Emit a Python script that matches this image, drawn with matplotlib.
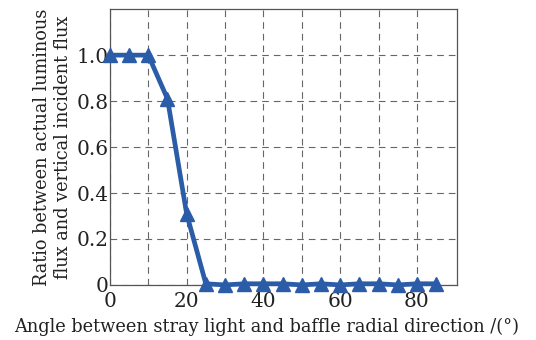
import matplotlib
matplotlib.use("Agg")
import matplotlib.pyplot as plt

angles = [0, 5, 10, 15, 20, 25, 30, 35, 40, 45, 50, 55, 60, 65, 70, 75, 80, 85]
ratio = [1.0, 1.0, 1.0, 0.81, 0.31, 0.005, 0.0, 0.005, 0.005, 0.005, 0.0, 0.005, 0.0, 0.005, 0.005, 0.0, 0.005, 0.005]
xticks = [0, 20, 40, 60, 80]
yticks = [0, 0.2, 0.4, 0.6, 0.8, 1.0]
ytick_labels = ["0", "0.2", "0.4", "0.6", "0.8", "1.0"]

plt.rcParams['font.family'] = ['DejaVu Serif']

fig = plt.figure(figsize=(5.36, 3.40), dpi=100)
ax = fig.add_axes([0.205, 0.162, 0.648, 0.811])

ax.plot(angles, ratio, color='#2b5ca8', linewidth=3.4, marker='^', markersize=10, zorder=3, clip_on=False)

ax.set_xlim(0, 90.5)
ax.set_ylim(0, 1.2)
ax.set_xticks(xticks)
ax.set_xticks(list(range(10, 90, 10)), minor=True)
ax.set_yticks(yticks)
ax.set_yticklabels(ytick_labels)
ax.tick_params(axis='y', which='both', length=0, labelsize=14.5, colors='#222222', pad=1)
ax.tick_params(axis='x', which='both', length=0, labelsize=14.5, colors='#222222', pad=5)
ax.grid(True, which='both', axis='x', linestyle=(0, (6, 4.5)), color='#666666', linewidth=0.8)
ax.grid(True, which='major', axis='y', linestyle=(0, (6, 4.5)), color='#666666', linewidth=0.8)
for s in ax.spines.values():
    s.set_color('#555555')
    s.set_linewidth(0.9)

ax.set_xlabel('Angle between stray light and baffle radial direction /(°)', fontsize=12.8, color='#222222')
ax.xaxis.set_label_coords(0.45, -0.118)
ax.set_ylabel('Ratio between actual luminous\nflux and vertical incident flux', fontsize=12.8, labelpad=3, color='#222222', linespacing=1.25)

fig.savefig('out.png', dpi=100)
